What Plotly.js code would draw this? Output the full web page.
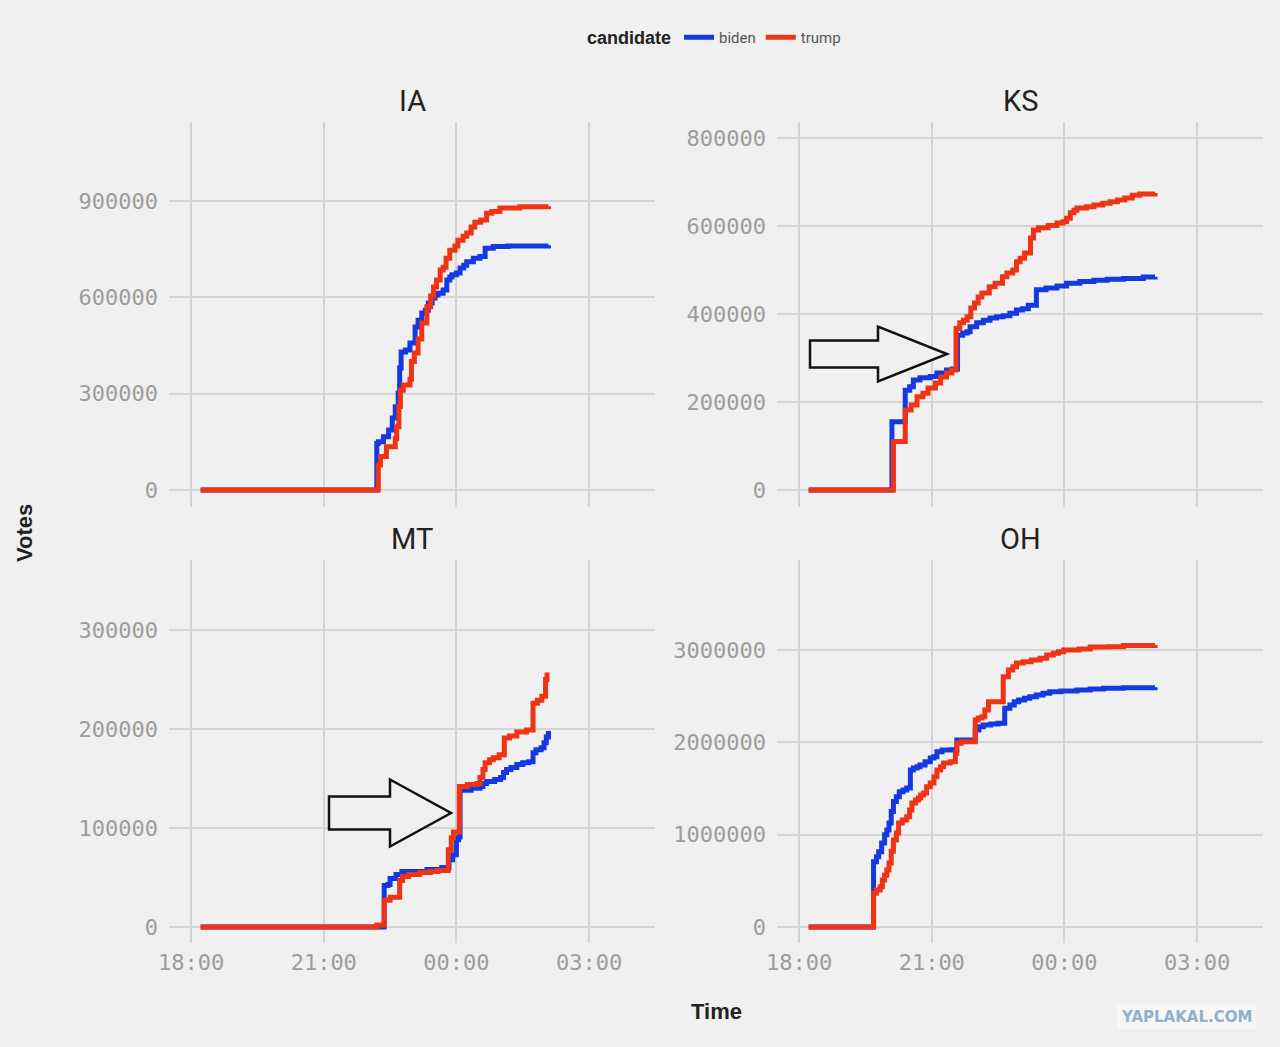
<!DOCTYPE html>
<html>
<head>
<meta charset="utf-8">
<script src="https://cdn.plot.ly/plotly-3.0.1.min.js"></script>
<style>
  html, body { margin: 0; padding: 0; background: #f0f0f0; }
  #chart { width: 1280px; height: 1047px; }
</style>
</head>
<body>
<div id="chart"></div>
<script>
//  ======== DATA ========
// times are clock times on election night; 00:00 onward is the next day
var iaBidenTime  = ['18:13','22:12','22:14','22:21','22:28','22:33','22:37','22:41','22:43','22:45','22:51','22:57','23:04','23:08','23:13','23:18','23:22','23:27','23:31','23:35','23:42','23:47','23:51','23:54','00:00','00:05','00:10','00:14','00:23','00:32','00:39','00:50','01:10','02:05'];
var iaBidenVotes = [0,145000,150000,166000,187000,224000,259000,302000,380000,430000,436000,458000,508000,529000,551000,560000,582000,598000,607000,613000,623000,654000,663000,670000,676000,691000,700000,711000,722000,727000,753000,758000,760000,762000];
var iaTrumpTime  = ['18:13','22:14','22:17','22:25','22:37','22:39','22:42','22:44','22:48','22:57','22:59','23:03','23:08','23:13','23:20','23:25','23:29','23:33','23:38','23:42','23:46','23:51','23:58','00:02','00:09','00:14','00:20','00:25','00:33','00:41','00:48','00:59','01:26','02:05'];
var iaTrumpVotes = [0,78000,104000,135000,160000,197000,260000,311000,327000,345000,400000,427000,470000,520000,571000,604000,632000,654000,685000,694000,722000,747000,760000,778000,790000,800000,819000,834000,841000,862000,867000,878000,882000,884000];

var ksBidenTime  = ['18:13','20:06','20:24','20:30','20:35','20:44','20:58','21:07','21:20','21:28','21:35','21:42','21:48','21:52','22:01','22:10','22:19','22:28','22:37','22:46','22:55','23:03','23:11','23:22','23:35','23:50','00:03','00:21','00:40','00:58','01:20','01:47','02:03'];
var ksBidenVotes = [0,155000,227000,235000,250000,255000,258000,266000,273000,275000,352000,357000,360000,371000,380000,386000,391000,394000,396000,402000,409000,412000,420000,455000,459000,464000,470000,474000,477000,479000,481000,484000,485000];
var ksTrumpTime  = ['18:13','20:08','20:24','20:32','20:40','20:48','20:55','21:05','21:12','21:20','21:27','21:33','21:38','21:43','21:48','21:53','21:58','22:03','22:08','22:18','22:26','22:36','22:42','22:50','22:55','23:00','23:06','23:14','23:18','23:25','23:38','23:50','23:58','00:03','00:08','00:13','00:17','00:30','00:40','00:52','01:02','01:12','01:22','01:32','01:42','02:03'];
var ksTrumpVotes = [0,110000,182000,193000,212000,220000,232000,243000,257000,266000,273000,367000,380000,386000,394000,414000,425000,439000,448000,462000,470000,485000,493000,500000,519000,527000,539000,573000,591000,596000,601000,607000,610000,618000,630000,636000,641000,644000,648000,652000,655000,659000,664000,670000,673000,675000];

var mtBidenTime  = ['18:13','22:22','22:27','22:30','22:38','22:46','23:20','23:40','23:50','23:55','00:00','00:03','00:05','00:20','00:32','00:36','00:41','00:52','01:00','01:04','01:08','01:14','01:22','01:30','01:38','01:44','01:48','01:55','01:59','02:02','02:05'];
var mtBidenVotes = [0,42000,43000,49000,53000,56000,58000,60000,68000,73000,88000,91000,138000,140000,142000,145000,147000,149000,151000,156000,159000,161000,164000,166000,167000,176000,179000,181000,186000,192000,198000];
var mtTrumpTime  = ['18:13','22:12','22:22','22:30','22:43','22:47','22:55','23:10','23:25','23:35','23:49','23:53','23:56','00:04','00:15','00:28','00:32','00:36','00:39','00:45','00:50','00:58','01:05','01:12','01:22','01:35','01:44','01:50','01:56','02:01','02:03'];
var mtTrumpVotes = [0,2000,27000,30000,47000,51000,53000,55000,56000,57000,78000,90000,96000,142000,144000,145000,151000,159000,166000,169000,171000,174000,191000,193000,197000,199000,226000,229000,233000,250000,257000];

var ohBidenTime  = ['18:13','19:41','19:45','19:48','19:52','19:56','19:59','20:02','20:05','20:08','20:12','20:16','20:21','20:26','20:31','20:35','20:40','20:44','20:51','20:58','21:03','21:07','21:14','21:25','21:34','21:59','22:04','22:10','22:20','22:30','22:39','22:46','22:52','22:58','23:06','23:13','23:22','23:31','23:40','23:55','00:17','00:35','00:53','01:20','02:03'];
var ohBidenVotes = [0,707000,761000,815000,910000,1000000,1050000,1126000,1250000,1360000,1411000,1465000,1484000,1505000,1700000,1722000,1736000,1754000,1790000,1830000,1844000,1899000,1917000,1920000,2025000,2133000,2169000,2188000,2200000,2206000,2368000,2404000,2440000,2458000,2477000,2494000,2513000,2531000,2548000,2556000,2567000,2577000,2585000,2592000,2596000];
var ohTrumpTime  = ['18:13','19:41','19:45','19:50','19:53','19:56','19:59','20:02','20:05','20:08','20:12','20:15','20:20','20:26','20:30','20:33','20:38','20:42','20:45','20:49','20:53','20:58','21:03','21:07','21:12','21:16','21:25','21:32','21:34','21:40','21:59','22:03','22:08','22:12','22:17','22:37','22:44','22:50','22:55','23:04','23:15','23:27','23:36','23:45','23:52','23:59','00:20','00:35','01:00','01:20','02:03'];
var ohTrumpVotes = [0,365000,400000,436000,509000,560000,617000,693000,820000,942000,1018000,1126000,1159000,1195000,1267000,1343000,1375000,1397000,1430000,1451000,1519000,1560000,1628000,1700000,1736000,1776000,1790000,1881000,1989000,2007000,2242000,2263000,2278000,2350000,2440000,2711000,2783000,2819000,2859000,2873000,2892000,2910000,2946000,2964000,2982000,3000000,3010000,3032000,3036000,3048000,3054000];

var states = ['IA', 'KS', 'MT', 'OH'];
var xTickLabels = ['18:00', '21:00', '00:00', '03:00'];
var yTicks = {
  IA: [0, 300000, 600000, 900000],
  KS: [0, 200000, 400000, 600000, 800000],
  MT: [0, 100000, 200000, 300000],
  OH: [0, 1000000, 2000000, 3000000]
};

//  ======== HELPERS ========
var W = 1280, H = 1047;
function toDate(t) {
  var h = parseInt(t, 10);
  return (h >= 12 ? '2020-11-03 ' : '2020-11-04 ') + t;
}
function px(x) { return x / W; }
function py(y) { return 1 - y / H; }

var BLUE = '#1439e0';
var RED = '#ee3414';
var BG = '#f0f0f0';
var GRID = '#d4d4d4';

var series = {
  IA: [iaBidenTime, iaBidenVotes, iaTrumpTime, iaTrumpVotes],
  KS: [ksBidenTime, ksBidenVotes, ksTrumpTime, ksTrumpVotes],
  MT: [mtBidenTime, mtBidenVotes, mtTrumpTime, mtTrumpVotes],
  OH: [ohBidenTime, ohBidenVotes, ohTrumpTime, ohTrumpVotes]
};

var plotData = [];
states.forEach(function(st, i) {
  var s = series[st];
  var sfx = i === 0 ? '' : String(i + 1);
  plotData.push({
    x: s[0].map(toDate), y: s[1],
    type: 'scatter', mode: 'lines', name: 'biden',
    legendgroup: 'biden', showlegend: i === 0,
    line: {color: BLUE, width: 5, shape: 'hv'},
    xaxis: 'x' + sfx, yaxis: 'y' + sfx
  });
  plotData.push({
    x: s[2].map(toDate), y: s[3],
    type: 'scatter', mode: 'lines', name: 'trump',
    legendgroup: 'trump', showlegend: i === 0,
    line: {color: RED, width: 5, shape: 'hv'},
    xaxis: 'x' + sfx, yaxis: 'y' + sfx
  });
});

//  ======== LAYOUT ========
// panel boxes in pixels: [left, right, top, bottom]
var boxes = {
  IA: [169, 655, 122, 507],
  KS: [777, 1263, 122, 507],
  MT: [169, 655, 560, 943],
  OH: [777, 1263, 560, 943]
};
var yRanges = {
  IA: [-52900, 1146000],
  KS: [-38600, 836500],
  MT: [-16200, 370700],
  OH: [-173300, 3975000]
};
var xRange = ['2020-11-03 17:30', '2020-11-04 04:29:30'];
var xTickVals = ['2020-11-03 18:00', '2020-11-03 21:00', '2020-11-04 00:00', '2020-11-04 03:00'];

var tickFont = {family: 'DejaVu Sans Mono', size: 22, color: '#9c9c9c'};

var layout = {
  width: W, height: H,
  margin: {l: 0, r: 0, t: 0, b: 0},
  paper_bgcolor: BG,
  plot_bgcolor: BG,
  showlegend: true,
  legend: {
    orientation: 'h',
    x: px(585), xanchor: 'left',
    y: py(38), yanchor: 'middle',
    bgcolor: 'rgba(0,0,0,0)',
    font: {family: 'Roboto', size: 15, color: '#555'},
    title: {text: '<b>candidate</b>', side: 'left', font: {family: 'Liberation Sans', size: 18, color: '#222'}},
    itemwidth: 30,
    tracegroupgap: 0
  },
  annotations: [],
  shapes: []
};

states.forEach(function(st, i) {
  var b = boxes[st];
  var sfx = i === 0 ? '' : String(i + 1);
  var bottomRow = i >= 2;
  layout['xaxis' + sfx] = {
    type: 'date',
    domain: [px(b[0]), px(b[1])],
    range: xRange,
    tickvals: xTickVals,
    ticktext: xTickLabels,
    showticklabels: bottomRow,
    tickfont: tickFont,
    ticks: '',
    ticklabelstandoff: 4,
    showgrid: true, gridcolor: GRID, gridwidth: 2,
    zeroline: false, showline: false,
    anchor: 'y' + sfx,
    fixedrange: true
  };
  layout['yaxis' + sfx] = {
    domain: [py(b[3]), py(b[2])],
    range: yRanges[st],
    tickvals: yTicks[st],
    ticktext: yTicks[st].map(String),
    tickfont: tickFont,
    ticks: '',
    ticklabelstandoff: 10,
    showgrid: true, gridcolor: GRID, gridwidth: 2,
    zeroline: false, showline: false,
    anchor: 'x' + sfx,
    fixedrange: true
  };
  // facet title
  layout.annotations.push({
    text: st, showarrow: false,
    xref: 'paper', yref: 'paper',
    x: px((b[0] + b[1]) / 2), y: py(b[2] - 21),
    xanchor: 'center', yanchor: 'middle',
    font: {family: 'Roboto', size: 29, color: '#222'}
  });
});

// axis titles
layout.annotations.push({
  text: '<b>Votes</b>', showarrow: false, textangle: -90,
  xref: 'paper', yref: 'paper', x: px(25), y: py(533),
  xanchor: 'center', yanchor: 'middle',
  font: {family: 'Liberation Sans', size: 22, color: '#222'}
});
layout.annotations.push({
  text: '<b>Time</b>', showarrow: false,
  xref: 'paper', yref: 'paper', x: px(716), y: py(1011),
  xanchor: 'center', yanchor: 'middle',
  font: {family: 'Liberation Sans', size: 22, color: '#222'}
});

// watermark
layout.annotations.push({
  text: '<b>YAPLAKAL.COM</b>', showarrow: false,
  xref: 'paper', yref: 'paper', x: px(1186), y: py(1017),
  xanchor: 'center', yanchor: 'middle',
  bgcolor: '#f7f7f7', borderpad: 3,
  font: {family: 'DejaVu Sans', size: 15, color: '#8fb0ce'}
});

// hand-drawn block arrows pointing at the jumps
function arrowPath(left, right, headX, tipX, midY, shaftH, headH) {
  var pts = [
    [left, midY - shaftH / 2], [headX, midY - shaftH / 2], [headX, midY - headH / 2],
    [tipX, midY], [headX, midY + headH / 2], [headX, midY + shaftH / 2], [left, midY + shaftH / 2]
  ];
  return 'M' + pts.map(function(p) { return px(p[0]) + ',' + py(p[1]); }).join(' L') + ' Z';
}
layout.shapes.push({
  type: 'path', xref: 'paper', yref: 'paper', layer: 'above',
  path: arrowPath(810, 878, 878, 947, 354, 27, 55),
  line: {color: '#111', width: 2.5}, fillcolor: BG
});
layout.shapes.push({
  type: 'path', xref: 'paper', yref: 'paper', layer: 'above',
  path: arrowPath(329, 390, 390, 451, 813, 33, 67),
  line: {color: '#111', width: 2.5}, fillcolor: BG
});

var config = {staticPlot: true, displayModeBar: false};

Plotly.newPlot('chart', plotData, layout, config);
</script>
</body>
</html>
